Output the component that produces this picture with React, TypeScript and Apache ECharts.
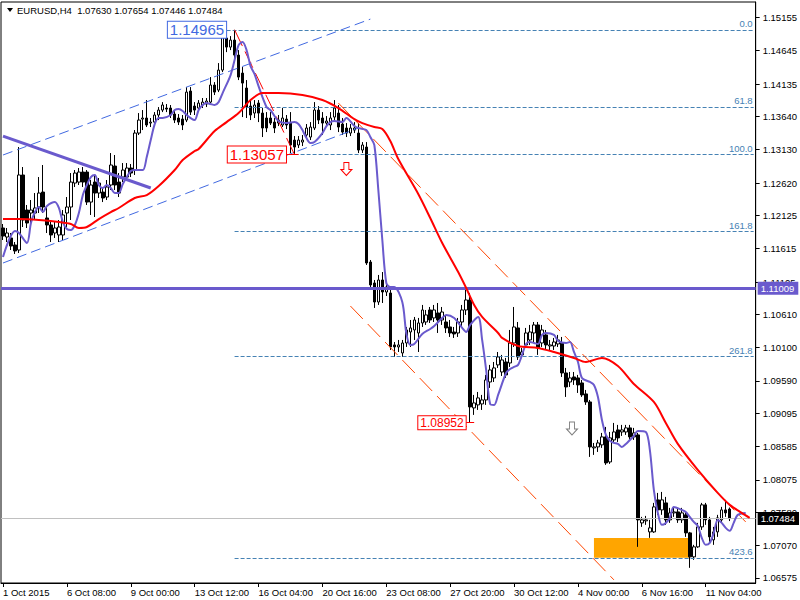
import React, { useEffect, useRef } from 'react';
import * as echarts from 'echarts';

const FONT = "'Liberation Sans', Arial, sans-serif";

const TOTAL_SLOTS = 189;
const xTickLabels = ['1 Oct 2015', '6 Oct 08:00', '9 Oct 00:00', '13 Oct 12:00', '16 Oct 04:00', '20 Oct 16:00', '23 Oct 08:00', '27 Oct 20:00', '30 Oct 12:00', '4 Nov 00:00', '6 Nov 16:00', '11 Nov 04:00'];
const X_LABEL_EVERY = 16;
const yTickValues = [1.15155, 1.14645, 1.14135, 1.1364, 1.1313, 1.1262, 1.12125, 1.11615, 1.11105, 1.1061, 1.101, 1.0959, 1.09095, 1.08585, 1.08075, 1.0758, 1.0707, 1.06575];
const Y_MIN = 1.06498;
const Y_MAX = 1.15391;

// [open, close, low, high]
const candles: number[][] = [
  [1.11932, 1.11809, 1.11748, 1.11993], [1.11794, 1.11855, 1.11717, 1.11932], [1.11779, 1.11656, 1.11595, 1.11855], [1.11672, 1.1158, 1.11534, 1.11717],
  [1.11595, 1.12743, 1.11549, 1.13171], [1.12743, 1.12054, 1.11947, 1.12865], [1.12207, 1.12008, 1.11932, 1.12284], [1.12161, 1.12207, 1.11947, 1.1236],
  [1.12161, 1.12238, 1.12054, 1.12467], [1.12253, 1.12467, 1.12161, 1.12712], [1.12482, 1.12253, 1.12161, 1.12896], [1.12085, 1.11978, 1.11855, 1.12253],
  [1.11978, 1.11825, 1.11717, 1.12054], [1.11855, 1.11932, 1.11779, 1.12023], [1.11825, 1.11947, 1.11717, 1.12054], [1.11825, 1.12131, 1.11748, 1.12207],
  [1.12161, 1.12253, 1.11947, 1.12406], [1.12253, 1.12635, 1.12054, 1.12773], [1.1262, 1.12773, 1.12559, 1.12819], [1.12635, 1.12788, 1.1259, 1.1285],
  [1.12788, 1.12635, 1.12559, 1.12865], [1.12788, 1.12329, 1.12284, 1.12819], [1.12329, 1.1259, 1.12131, 1.12666], [1.12635, 1.12467, 1.121, 1.12743],
  [1.12467, 1.1262, 1.12391, 1.12697], [1.12482, 1.12391, 1.12329, 1.12544], [1.12406, 1.12559, 1.1236, 1.12666], [1.1259, 1.12896, 1.12513, 1.13079],
  [1.1288, 1.1259, 1.12513, 1.13049], [1.12635, 1.12467, 1.12406, 1.12773], [1.12712, 1.12819, 1.12635, 1.12926], [1.12712, 1.1285, 1.12666, 1.12926],
  [1.1285, 1.12773, 1.12712, 1.12911], [1.12819, 1.13385, 1.12743, 1.13431], [1.13385, 1.13584, 1.13355, 1.13691], [1.13599, 1.13615, 1.13431, 1.13737],
  [1.13615, 1.13508, 1.13477, 1.1389], [1.13538, 1.13553, 1.13477, 1.13615], [1.13553, 1.13661, 1.13508, 1.13706], [1.13661, 1.13737, 1.13584, 1.13783],
  [1.13737, 1.13814, 1.13706, 1.13859], [1.13768, 1.13752, 1.13706, 1.13829], [1.13768, 1.13661, 1.13615, 1.13814], [1.13676, 1.13584, 1.13538, 1.13737],
  [1.13615, 1.13553, 1.13508, 1.13676], [1.13599, 1.13508, 1.13431, 1.13661], [1.13584, 1.14012, 1.13553, 1.14089], [1.14028, 1.13706, 1.13661, 1.14089],
  [1.13798, 1.13737, 1.13661, 1.13859], [1.13768, 1.13844, 1.13706, 1.1389], [1.13814, 1.13859, 1.13768, 1.13921], [1.13829, 1.13875, 1.13783, 1.13921],
  [1.13859, 1.1412, 1.13829, 1.14242], [1.1412, 1.14012, 1.13967, 1.14165], [1.14043, 1.14349, 1.14012, 1.14456], [1.14349, 1.14854, 1.14318, 1.14885],
  [1.14839, 1.14701, 1.14624, 1.149], [1.14701, 1.14808, 1.14655, 1.14869], [1.14808, 1.14579, 1.14533, 1.14965], [1.14579, 1.14242, 1.14196, 1.14655],
  [1.14303, 1.1415, 1.1363, 1.14395], [1.14074, 1.13783, 1.13615, 1.14196], [1.13798, 1.13661, 1.13584, 1.1389], [1.13691, 1.13814, 1.13615, 1.1389],
  [1.13844, 1.13691, 1.13553, 1.1389], [1.13691, 1.13462, 1.13324, 1.13768], [1.13615, 1.13462, 1.134, 1.13706], [1.13615, 1.13538, 1.13508, 1.13706],
  [1.13553, 1.13462, 1.13385, 1.13615], [1.13538, 1.13584, 1.13492, 1.13661], [1.13508, 1.13615, 1.13477, 1.13768], [1.13599, 1.13508, 1.13446, 1.13661],
  [1.13538, 1.13202, 1.13079, 1.13706], [1.13278, 1.13171, 1.13057, 1.13339], [1.13202, 1.13278, 1.13156, 1.13339], [1.13247, 1.13278, 1.13186, 1.13355],
  [1.13355, 1.13462, 1.13309, 1.13523], [1.13324, 1.13477, 1.13278, 1.13553], [1.13462, 1.13737, 1.13431, 1.13859], [1.13737, 1.13584, 1.13523, 1.13798],
  [1.13615, 1.13538, 1.13355, 1.13706], [1.13538, 1.13569, 1.13477, 1.13645], [1.13508, 1.13615, 1.13431, 1.13706], [1.1363, 1.13768, 1.13584, 1.1389],
  [1.13691, 1.13477, 1.134, 1.13814], [1.13523, 1.134, 1.13355, 1.13615], [1.13462, 1.13385, 1.13324, 1.13538], [1.13385, 1.13462, 1.13339, 1.13523],
  [1.13431, 1.13462, 1.13385, 1.13553], [1.13385, 1.13125, 1.13079, 1.13538], [1.13125, 1.13202, 1.1308, 1.13247], [1.13171, 1.11396, 1.11366, 1.13247],
  [1.11411, 1.1106, 1.11014, 1.11442], [1.1109, 1.10799, 1.10708, 1.11136], [1.10799, 1.11136, 1.10754, 1.11213], [1.11136, 1.10952, 1.10784, 1.11258],
  [1.10952, 1.11029, 1.10891, 1.11105], [1.10937, 1.10111, 1.10065, 1.10983], [1.10142, 1.10111, 1.09958, 1.10187], [1.10111, 1.10142, 1.10034, 1.10218],
  [1.10019, 1.10172, 1.09958, 1.10218], [1.10172, 1.10371, 1.10111, 1.10417], [1.1034, 1.10402, 1.10111, 1.10524], [1.10371, 1.10524, 1.10218, 1.1057],
  [1.10325, 1.10478, 1.10034, 1.10555], [1.10478, 1.10677, 1.10417, 1.10754], [1.10493, 1.10601, 1.10448, 1.10677], [1.10677, 1.10524, 1.10478, 1.10723],
  [1.10555, 1.10677, 1.10493, 1.10754], [1.10631, 1.10524, 1.10325, 1.10784], [1.10524, 1.10646, 1.10448, 1.10723], [1.10493, 1.10402, 1.10325, 1.10601],
  [1.10417, 1.10325, 1.10264, 1.10524], [1.1034, 1.1031, 1.10249, 1.10417], [1.10325, 1.10493, 1.10264, 1.10555], [1.10493, 1.10677, 1.10417, 1.10754],
  [1.10677, 1.1083, 1.10601, 1.11005], [1.1083, 1.09193, 1.08952, 1.10937], [1.09178, 1.09254, 1.09071, 1.09377], [1.09224, 1.09331, 1.09147, 1.09422],
  [1.09239, 1.093, 1.09147, 1.09377], [1.093, 1.09606, 1.09224, 1.09683], [1.09575, 1.09759, 1.09484, 1.09836], [1.09637, 1.0979, 1.09575, 1.09881],
  [1.09836, 1.09958, 1.0979, 1.10034], [1.09728, 1.09912, 1.09667, 1.09989], [1.09881, 1.09683, 1.09637, 1.09943], [1.09866, 1.10172, 1.09805, 1.10371],
  [1.10172, 1.10417, 1.10111, 1.10723], [1.10402, 1.09958, 1.09912, 1.10493], [1.09989, 1.10034, 1.09943, 1.10096], [1.10142, 1.10325, 1.10096, 1.10402],
  [1.10218, 1.1034, 1.10142, 1.10448], [1.10325, 1.10448, 1.10172, 1.10493], [1.10448, 1.10096, 1.09989, 1.10493], [1.10172, 1.10371, 1.10111, 1.10448],
  [1.10295, 1.10142, 1.10065, 1.10371], [1.10126, 1.10142, 1.10065, 1.10218], [1.10126, 1.10187, 1.10065, 1.10249], [1.10157, 1.10218, 1.10111, 1.10295],
  [1.10172, 1.09713, 1.09652, 1.10264], [1.09713, 1.09499, 1.09346, 1.0979], [1.09575, 1.09637, 1.09499, 1.09728], [1.09652, 1.09606, 1.0953, 1.09728],
  [1.09637, 1.0953, 1.09407, 1.09683], [1.0956, 1.09377, 1.09346, 1.09606], [1.09392, 1.09269, 1.09224, 1.09453], [1.09269, 1.08581, 1.08428, 1.093],
  [1.08566, 1.08581, 1.08459, 1.08642], [1.08581, 1.08642, 1.08504, 1.08688], [1.08612, 1.08734, 1.08566, 1.08795], [1.08734, 1.08336, 1.08306, 1.08887],
  [1.08351, 1.08719, 1.08321, 1.0881], [1.08688, 1.0881, 1.08642, 1.08948], [1.08841, 1.08719, 1.08657, 1.08918], [1.0881, 1.08841, 1.08749, 1.08918],
  [1.0881, 1.08872, 1.08765, 1.08918], [1.08872, 1.08734, 1.08688, 1.08918], [1.08734, 1.08795, 1.08688, 1.08872], [1.08765, 1.07464, 1.07051, 1.08795],
  [1.07418, 1.07464, 1.07357, 1.0751], [1.07449, 1.07464, 1.07388, 1.07525], [1.0728, 1.07342, 1.07189, 1.07464], [1.0728, 1.07663, 1.07265, 1.07724],
  [1.0777, 1.07617, 1.07541, 1.07877], [1.07617, 1.0777, 1.07541, 1.07892], [1.07724, 1.07464, 1.07388, 1.07816], [1.07464, 1.07571, 1.07418, 1.07648],
  [1.07571, 1.07586, 1.0751, 1.07663], [1.07586, 1.07464, 1.07418, 1.07648], [1.07464, 1.07571, 1.07418, 1.07648], [1.07541, 1.07265, 1.07204, 1.07586],
  [1.07265, 1.06898, 1.0673, 1.0728], [1.06898, 1.07051, 1.06852, 1.07082], [1.07051, 1.07357, 1.07036, 1.07418], [1.07357, 1.07694, 1.07311, 1.07724],
  [1.07694, 1.07464, 1.07388, 1.07724], [1.07464, 1.07204, 1.07127, 1.0751], [1.07158, 1.0728, 1.07082, 1.07357], [1.0728, 1.07495, 1.07204, 1.07541],
  [1.07464, 1.07617, 1.07418, 1.07663], [1.07617, 1.07571, 1.0751, 1.0777], [1.0763, 1.07484, 1.07446, 1.07654],
];

// [bar index, price]
const fastMA: number[][] = [
  [0, 1.11488], [3, 1.11886], [4, 1.11855], [6, 1.11702], [7, 1.12008], [8, 1.12176], [9, 1.12253], [10, 1.12176], [11, 1.12268], [13, 1.12329],
  [14, 1.12238], [15, 1.12023], [16, 1.11916], [17, 1.11901], [18, 1.11978], [19, 1.12161], [20, 1.12436], [21, 1.1259], [22, 1.12712], [23, 1.12743],
  [24, 1.1259], [25, 1.12544], [26, 1.1259], [27, 1.12544], [28, 1.12467], [29, 1.12467], [30, 1.12605], [31, 1.12712], [32, 1.12803], [33, 1.12819],
  [35, 1.12819], [36, 1.13018], [37, 1.13278], [38, 1.13523], [39, 1.13615], [40, 1.13615], [42, 1.13661], [43, 1.13737], [44, 1.13752], [45, 1.13722],
  [46, 1.13661], [47, 1.13615], [48, 1.13584], [49, 1.13737], [50, 1.13814], [51, 1.13844], [52, 1.13829], [53, 1.13814], [54, 1.13859], [55, 1.13997],
  [57, 1.14273], [58, 1.14502], [59, 1.14731], [60, 1.14777], [61, 1.14655], [62, 1.1441], [63, 1.14288], [64, 1.14104], [66, 1.13783], [67, 1.13737],
  [69, 1.13569], [71, 1.13538], [73, 1.13553], [74, 1.13523], [75, 1.13431], [76, 1.13309], [77, 1.13232], [78, 1.13247], [80, 1.13385], [81, 1.13492],
  [82, 1.13553], [83, 1.13569], [85, 1.13553], [86, 1.13615], [88, 1.13492], [89, 1.13462], [91, 1.13431], [92, 1.13324], [93, 1.13202], [94, 1.12513],
  [95, 1.11748], [96, 1.1109], [97, 1.11029], [98, 1.11029], [100, 1.10799], [101, 1.10325], [102, 1.10142], [103, 1.10157], [105, 1.1031], [107, 1.10386],
  [108, 1.10432], [110, 1.10555], [111, 1.10601], [113, 1.10555], [115, 1.10402], [116, 1.1034], [117, 1.10448], [119, 1.1057], [120, 1.10218], [121, 1.09759],
  [122, 1.09239], [123, 1.09224], [124, 1.09377], [126, 1.09713], [127, 1.09774], [128, 1.09805], [129, 1.09836], [130, 1.09989], [131, 1.10157], [132, 1.10187],
  [133, 1.10172], [134, 1.10157], [135, 1.10295], [136, 1.10325], [138, 1.10295], [139, 1.10203], [141, 1.10172], [142, 1.10187], [143, 1.10034], [144, 1.09881],
  [145, 1.09637], [147, 1.09575], [148, 1.0953], [149, 1.09346], [150, 1.08994], [151, 1.08765], [152, 1.08673], [153, 1.08642], [154, 1.08627], [155, 1.08581],
  [156, 1.08627], [157, 1.08688], [158, 1.08749], [159, 1.08826], [161, 1.0881], [162, 1.08535], [163, 1.07923], [164, 1.07571], [165, 1.07388], [166, 1.07418],
  [167, 1.07495], [168, 1.07663], [170, 1.07617], [171, 1.07586], [172, 1.0751], [173, 1.07433], [174, 1.07372], [175, 1.07189], [176, 1.07082], [177, 1.07112],
  [178, 1.07265], [179, 1.07464], [180, 1.07418], [181, 1.07342], [182, 1.07296], [183, 1.07418], [184, 1.07541], [186, 1.07571],
];

const slowMA: number[][] = [
  [0, 1.12069], [4, 1.12069], [9, 1.12054], [14, 1.12023], [17, 1.11993], [19, 1.11932], [21, 1.11947], [24, 1.12069], [27, 1.12176], [29, 1.12238],
  [33, 1.12391], [36, 1.12436], [39, 1.12574], [43, 1.12819], [45, 1.12972], [48, 1.1311], [49, 1.1314], [53, 1.13416], [56, 1.13553], [59, 1.13691],
  [62, 1.1389], [65, 1.13997], [69, 1.13997], [75, 1.13967], [80, 1.1389], [84, 1.13768], [88, 1.13599], [90, 1.13538], [93, 1.13477], [95, 1.13446],
  [97, 1.13263], [99, 1.12987], [104, 1.12452], [107, 1.12085], [110, 1.11702], [114, 1.11258], [116, 1.11014], [118, 1.10754], [120, 1.1057], [124, 1.10325],
  [125, 1.10249], [129, 1.10126], [134, 1.10096], [138, 1.10034], [143, 1.09943], [146, 1.09881], [150, 1.09943], [154, 1.0982], [158, 1.09545], [163, 1.09269],
  [166, 1.08948], [169, 1.08627], [174, 1.08229], [179, 1.07877], [182, 1.07694], [185, 1.07571], [187, 1.07495],
];

const fibNames = ['0.0', '61.8', '100.0', '161.8', '261.8', '423.6'];
const fibValues = [1.14965, 1.13786, 1.13057, 1.11878, 1.0997, 1.06883];
const FIB_START = 58;

const blueChannelUpper = [[0, 1.13049], [92, 1.15129]];
const blueChannelLower = [[0, 1.11396], [89, 1.13462]];
const purpleTrend = [[0, 1.13339], [37, 1.12544]];
const orangeChannelUpper = [[84, 1.13844], [186, 1.07433]];
const orangeChannelLower = [[87, 1.10738], [153, 1.06546]];
const fibDiagonal = [[58, 1.14965], [73, 1.13057]];

const horizontalLevel = 1.11009;
const lastPrice = 1.07484;
const ohlcTitle = 'EURUSD,H4  1.07630 1.07654 1.07446 1.07484';

const highLabel = { idx: 56, price: 1.14965, text: '1.14965' };
const lowLabel = { idx: 71, price: 1.13057, text: '1.13057' };
const low2Label = { idx: 116, price: 1.08952, text: '1.08952' };
const redArrow = { idx: 86, price: 1.12835 };
const grayArrow = { idx: 142, price: 1.08864 };
const zoneTop = 1.07188;
const zoneBottom = 1.06883;
const zoneStart = 148;
const zoneEnd = 172;

const categories = Array.from({ length: TOTAL_SLOTS }, (_, i) => String(i));

const seg = (pts: number[][], color: string, width: number, type: any) => [
  { coord: pts[0], lineStyle: { color, width, type }, label: { show: false } },
  { coord: pts[1] },
];

const ARROW = 'path://M3,0L8,0L8,7L11,7L5.5,13L0,7L3,7Z';

function buildOption(): any {
  const fibLines = fibValues.map((v, k) => [
    {
      coord: [k === 0 ? highLabel.idx : FIB_START, v],
      lineStyle: { color: '#4682B4', width: 1, type: [4, 2] },
      label: { show: true, position: 'insideEndTop', formatter: fibNames[k], color: '#4682B4', fontSize: 9.5, fontFamily: FONT, distance: 1 },
    },
    { coord: [TOTAL_SLOTS - 1, v] },
  ]);

  const priceBox = (p: any, color: string, size: number) => ({
    coord: [p.idx, p.price],
    symbol: 'circle',
    symbolSize: 1,
    itemStyle: { color: 'rgba(0,0,0,0)' },
    label: {
      show: true,
      position: 'left',
      distance: 0,
      formatter: p.text,
      color,
      fontSize: size,
      fontFamily: FONT,
      backgroundColor: '#fff',
      borderColor: color,
      borderWidth: 1,
      padding: [1, 2, 0, 2],
      lineHeight: size,
    },
  });

  return {
    animation: false,
    backgroundColor: '#fff',
    grid: { left: 1, right: 43, top: 2, bottom: 17, show: true, borderColor: '#000', borderWidth: 1, backgroundColor: '#fff' },
    xAxis: {
      type: 'category',
      data: categories,
      boundaryGap: true,
      axisLine: { show: true, lineStyle: { color: '#000', width: 1 } },
      axisTick: { show: true, alignWithLabel: true, interval: (i: number) => i % X_LABEL_EVERY === 0, length: 4, lineStyle: { color: '#000' } },
      axisLabel: {
        interval: (i: number) => i % X_LABEL_EVERY === 0,
        formatter: (_v: string, i: number) => xTickLabels[i / X_LABEL_EVERY] ?? '',
        align: 'left',
        margin: 4,
        color: '#000',
        fontSize: 9.5,
        fontFamily: FONT,
      },
      splitLine: { show: false },
    },
    yAxis: {
      type: 'value',
      position: 'right',
      min: Y_MIN,
      max: Y_MAX,
      axisLine: { show: true, lineStyle: { color: '#000', width: 1 } },
      axisTick: { show: true, customValues: yTickValues, length: 4, lineStyle: { color: '#000' } },
      axisLabel: { customValues: yTickValues, formatter: (v: number) => v.toFixed(5), margin: 7, color: '#000', fontSize: 9.5, fontFamily: FONT },
      splitLine: { show: false },
    },
    graphic: [
      { type: 'polygon', shape: { points: [[7, 8], [13, 8], [10, 12]] }, style: { fill: '#000' }, z: 100 },
      { type: 'text', x: 17, y: 5, style: { text: ohlcTitle, fontSize: 9.5, fontFamily: FONT, fill: '#000' }, z: 100 },
    ],
    series: [
      {
        type: 'candlestick',
        name: 'EURUSD,H4',
        data: candles,
        barWidth: 3,
        z: 3,
        itemStyle: { color: '#fff', color0: '#000', borderColor: '#000', borderColor0: '#000', borderWidth: 1 },
        markArea: {
          silent: true,
          z: 1,
          data: [[
            { coord: [zoneStart, zoneTop], itemStyle: { color: '#FFA500', opacity: 1 } },
            { coord: [zoneEnd, zoneBottom] },
          ]],
        },
        markPoint: {
          silent: true,
          z: 8,
          data: [
            priceBox(highLabel, '#4169E1', 15),
            priceBox(lowLabel, '#FF0000', 15),
            priceBox(low2Label, '#FF0000', 12),
            { coord: [redArrow.idx, redArrow.price], symbol: ARROW, symbolSize: [11, 13], itemStyle: { color: '#fff', borderColor: '#FF0000', borderWidth: 1 }, label: { show: false } },
            { coord: [grayArrow.idx, grayArrow.price], symbol: ARROW, symbolSize: [11, 13], symbolOffset: [2, 0], itemStyle: { color: '#fff', borderColor: '#808080', borderWidth: 1 }, label: { show: false } },
          ],
        },
      },
      {
        type: 'line',
        name: 'fast',
        data: fastMA,
        symbol: 'none',
        smooth: 0.3,
        z: 6,
        lineStyle: { color: '#6A5ACD', width: 2 },
      },
      {
        type: 'line',
        name: 'slow',
        data: slowMA,
        symbol: 'none',
        smooth: 0.3,
        z: 6,
        lineStyle: { color: '#FF0000', width: 2 },
        markLine: {
          silent: true,
          symbol: ['none', 'none'],
          precision: 5,
          z: 5,
          label: { show: false },
          data: [
            ...fibLines,
            seg(fibDiagonal, '#FF0000', 1, [18, 6]),
            seg(blueChannelUpper, '#4169E1', 1, [10, 5]),
            seg(blueChannelLower, '#4169E1', 1, [10, 5]),
            seg(purpleTrend, '#6A5ACD', 3, 'solid'),
            seg(orangeChannelUpper, '#FF4500', 1, [18, 7]),
            seg(orangeChannelLower, '#FF4500', 1, [18, 7]),
            seg([[lowLabel.idx, lowLabel.price], [lowLabel.idx + 3, lowLabel.price]], '#FF0000', 1, 'solid'),
            seg([[low2Label.idx, low2Label.price], [low2Label.idx + 2, low2Label.price]], '#FF0000', 1, 'solid'),
            {
              yAxis: lastPrice,
              lineStyle: { color: '#C0C0C0', width: 1, type: 'solid' },
              label: { show: true, position: 'end', distance: 2, formatter: lastPrice.toFixed(5), color: '#fff', backgroundColor: '#000', padding: [2, 4, 1, 3], fontSize: 9.5, fontFamily: FONT },
            },
            {
              yAxis: horizontalLevel,
              lineStyle: { color: '#6A5ACD', width: 3, type: 'solid' },
              label: { show: true, position: 'end', distance: 2, formatter: horizontalLevel.toFixed(5), color: '#fff', backgroundColor: '#6A5ACD', padding: [2, 4, 1, 3], fontSize: 9.5, fontFamily: FONT },
            },
          ],
        },
      },
    ],
  };
}

export default function App() {
  const ref = useRef<HTMLDivElement>(null);
  useEffect(() => {
    const chart = echarts.init(ref.current!, null, { renderer: 'svg' });
    chart.setOption(buildOption());
    return () => chart.dispose();
  }, []);
  return <div ref={ref} style={{ position: 'fixed', left: 0, top: 0, width: 800, height: 600, background: '#fff' }} />;
}
